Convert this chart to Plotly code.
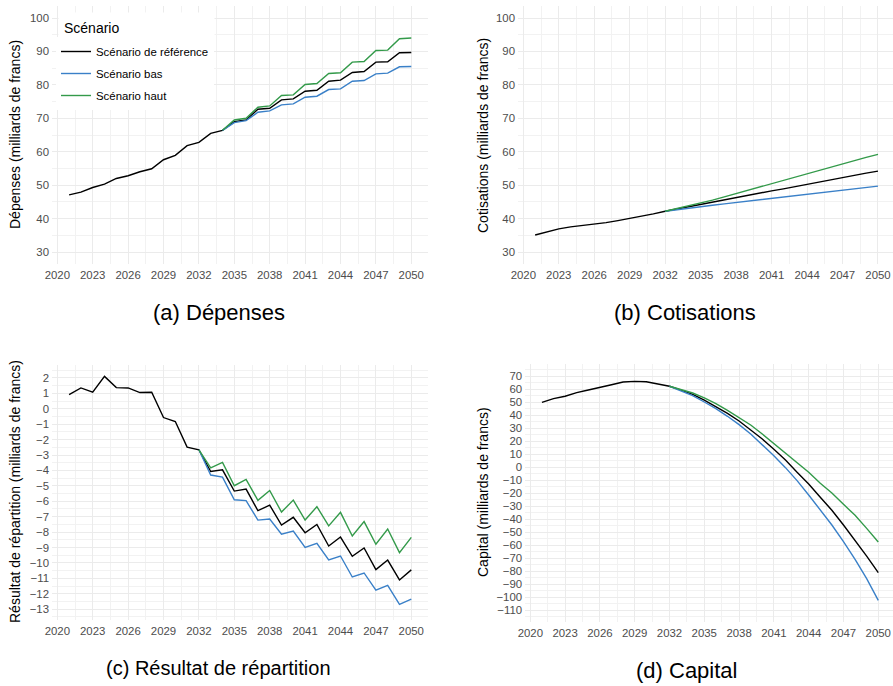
import plotly.graph_objects as go
from plotly.subplots import make_subplots

W, H = 893, 686


def fx(px):
    return px / W


def fy(py):
    return 1 - py / H


years = list(range(2021, 2051))
names = ["Scénario de référence", "Scénario bas", "Scénario haut"]
colors = ["#000000", "#3A80C8", "#339A4A"]

# (a) Dépenses
dep_ref = [47.1, 47.9, 49.3, 50.3, 52.0, 52.8, 54.0, 54.9, 57.6, 58.9, 61.8, 62.8, 65.5, 66.4,
           69.0, 69.5, 72.7, 73.0, 75.5, 75.8, 78.1, 78.4, 81.1, 81.4, 83.7, 84.0, 86.8, 86.9, 89.6, 89.7]
dep_years_sc = list(range(2034, 2051))
dep_bas = [66.4, 68.7, 69.3, 71.8, 72.2, 74.0, 74.3, 76.3, 76.6, 78.6, 78.8, 81.1, 81.3, 83.3, 83.5, 85.4, 85.5]
dep_haut = [66.4, 69.5, 70.0, 73.3, 73.7, 76.8, 77.0, 80.1, 80.4, 83.4, 83.6, 86.8, 87.0, 90.3, 90.4, 93.8, 94.0]

# (b) Cotisations
cot_ref = [35.1, 36.0, 36.9, 37.5, 37.9, 38.3, 38.8, 39.4, 40.0, 40.6, 41.4, 42.2, 42.9, 43.6, 44.3,
           44.9, 45.6, 46.2, 46.9, 47.6, 48.3, 48.9, 49.6, 50.3, 50.9, 51.6, 52.3, 52.9, 53.6, 54.2]
sc_years = list(range(2032, 2051))
cot_bas = [42.2, 42.7, 43.2, 43.6, 44.0, 44.4, 44.8, 45.2, 45.6, 46.0, 46.5, 46.9, 47.3, 47.7, 48.1,
           48.5, 48.9, 49.3, 49.7]
cot_haut = [42.2, 43.0, 43.8, 44.6, 45.5, 46.5, 47.5, 48.5, 49.5, 50.5, 51.5, 52.5, 53.5, 54.4, 55.4,
            56.3, 57.3, 58.3, 59.2]

# (c) Résultat de répartition
res_ref = [0.92, 1.35, 1.07, 2.1, 1.37, 1.35, 1.05, 1.07, -0.57, -0.83, -2.49, -2.66, -4.07, -3.96,
           -5.34, -5.21, -6.61, -6.25, -7.54, -7.04, -8.04, -7.50, -8.90, -8.32, -9.57, -9.03,
           -10.43, -9.81, -11.10, -10.45]
res_bas = [-2.66, -4.30, -4.43, -5.90, -5.96, -7.22, -7.15, -8.14, -7.93, -8.99, -8.73, -9.81, -9.55,
           -10.91, -10.65, -11.77, -11.45, -12.68, -12.35]
res_haut = [-2.66, -3.83, -3.48, -4.99, -4.58, -5.94, -5.30, -6.70, -5.92, -7.22, -6.35, -7.60, -6.72,
            -8.25, -7.32, -8.79, -7.80, -9.33, -8.34]

# (d) Capital
cap_ref = [49.7, 52.6, 54.4, 57.2, 59.2, 61.5, 63.3, 65.4, 65.9, 65.6, 63.8, 62.1, 59.2, 55.9, 51.5,
           46.7, 41.3, 35.4, 28.7, 21.5, 13.6, 5.4, -4.1, -13.1, -23.3, -33.3, -44.6, -56.2, -68.5, -81.3]
cap_bas = [62.1, 58.7, 54.9, 50.0, 44.9, 39.0, 32.6, 25.4, 17.4, 8.7, -0.5, -10.5, -21.5, -32.6,
           -44.6, -57.4, -71.0, -85.9, -102.6]
cap_haut = [62.1, 59.7, 56.9, 53.1, 48.7, 43.6, 38.2, 32.3, 25.4, 18.2, 11.0, 3.8, -4.0, -12.5,
            -20.0, -28.7, -37.2, -47.2, -57.7]

x_ticks = list(range(2020, 2051, 3))

panels = [
    dict(row=1, col=1, ref=dep_ref, sx=dep_years_sc, bas=dep_bas, haut=dep_haut,
         title="Dépenses (milliards de francs)", caption="(a) Dépenses", csize=22,
         yrange=[26.5, 103.5], ydtick=10, ytick0=30, ymin=5, zero=False,
         xdom=[52, 428.4], ydom=[6.3, 263.7], xr=[2019.55, 2051.45],
         tx=15, ty=135, cx=219, cy=312),
    dict(row=1, col=2, ref=cot_ref, sx=sc_years, bas=cot_bas, haut=cot_haut,
         title="Cotisations (milliards de francs)", caption="(b) Cotisations", csize=22,
         yrange=[26.5, 103.5], ydtick=10, ytick0=30, ymin=5, zero=False,
         xdom=[518, 893], ydom=[6.3, 263.7], xr=[2019.55, 2051.27],
         tx=483, ty=136, cx=685, cy=312),
    dict(row=2, col=1, ref=res_ref, sx=sc_years, bas=res_bas, haut=res_haut,
         title="Résultat de répartition (milliards de francs)", caption="(c) Résultat de répartition",
         csize=20,
         yrange=[-13.7, 2.87], ydtick=1, ytick0=0, ymin=0.5, zero=True,
         xdom=[52, 428.4], ydom=[364.5, 620], xr=[2019.55, 2051.45],
         tx=15, ty=492, cx=218, cy=668),
    dict(row=2, col=2, ref=cap_ref, sx=sc_years, bas=cap_bas, haut=cap_haut,
         title="Capital (milliards de francs)", caption="(d) Capital", csize=22,
         yrange=[-119, 79], ydtick=10, ytick0=0, ymin=5, zero=True,
         xdom=[525.1, 893], ydom=[364.3, 621.7], xr=[2019.55, 2051.27],
         tx=483, ty=492, cx=686, cy=670),
]

fig = make_subplots(rows=2, cols=2)

FONT = "Liberation Sans, Arial, sans-serif"
GRID = "#EBEBEB"
MINOR = "#F2F2F2"

annotations = []
for i, p in enumerate(panels):
    r, c = p["row"], p["col"]
    first = i == 0
    if p["zero"]:
        fig.add_hline(y=0, line=dict(color="#C8282E", width=1.4), row=r, col=c, layer="below")
    fig.add_trace(go.Scatter(x=years, y=p["ref"], mode="lines", name=names[0],
                             line=dict(color=colors[0], width=1.4), legendgroup="ref",
                             showlegend=first), row=r, col=c)
    fig.add_trace(go.Scatter(x=p["sx"], y=p["bas"], mode="lines", name=names[1],
                             line=dict(color=colors[1], width=1.4), legendgroup="bas",
                             showlegend=first), row=r, col=c)
    fig.add_trace(go.Scatter(x=p["sx"], y=p["haut"], mode="lines", name=names[2],
                             line=dict(color=colors[2], width=1.4), legendgroup="haut",
                             showlegend=first), row=r, col=c)
    fig.update_xaxes(domain=[fx(p["xdom"][0]), min(1.0, fx(p["xdom"][1]))], range=p["xr"],
                     tickmode="array", tickvals=x_ticks, ticks="", showline=False, zeroline=False,
                     showgrid=True, gridcolor=GRID, gridwidth=1.1,
                     minor=dict(tick0=2020, dtick=1.5, showgrid=True, gridcolor=MINOR, gridwidth=1),
                     tickfont=dict(family=FONT, size=11.4, color="#4D4D4D"),
                     ticklabelstandoff=3, automargin=False, row=r, col=c)
    fig.update_yaxes(domain=[fy(p["ydom"][1]), min(1.0, fy(p["ydom"][0]))], range=p["yrange"],
                     tick0=p["ytick0"], dtick=p["ydtick"], ticks="", showline=False, zeroline=False,
                     showgrid=True, gridcolor=GRID, gridwidth=1.1,
                     minor=dict(tick0=p["ytick0"], dtick=p["ymin"], showgrid=True, gridcolor=MINOR, gridwidth=1),
                     tickfont=dict(family=FONT, size=11.4, color="#4D4D4D"),
                     ticklabelstandoff=2, automargin=False, row=r, col=c)
    annotations.append(dict(text=p["title"], x=fx(p["tx"]), y=fy(p["ty"]), xref="paper", yref="paper",
                            textangle=-90, showarrow=False, xanchor="center", yanchor="middle",
                            font=dict(family=FONT, size=14, color="#000000")))
    annotations.append(dict(text=p["caption"], x=fx(p["cx"]), y=fy(p["cy"]), xref="paper", yref="paper",
                            showarrow=False, xanchor="center", yanchor="middle",
                            font=dict(family=FONT, size=p["csize"], color="#000000")))

# legend title, drawn as a white box on top of the legend entries
annotations.append(dict(text="Scénario", x=fx(58), y=fy(12), xref="paper", yref="paper",
                        xanchor="left", yanchor="top", showarrow=False, align="left", valign="middle",
                        width=145, height=20, borderpad=5, bgcolor="white",
                        font=dict(family=FONT, size=14, color="#000000")))

fig.update_layout(
    width=W, height=H,
    margin=dict(l=0, r=0, t=0, b=0),
    paper_bgcolor="white", plot_bgcolor="white",
    font=dict(family=FONT),
    annotations=annotations,
    showlegend=True,
    legend=dict(x=fx(56), y=fy(37), xanchor="left", yanchor="top",
                bgcolor="white", traceorder="grouped", tracegroupgap=3,
                font=dict(family=FONT, size=11.4, color="#000000")),
)

fig.write_html("out.html", config={"displayModeBar": False},
               post_script="document.body.style.margin='0';document.body.style.overflow='hidden';")
